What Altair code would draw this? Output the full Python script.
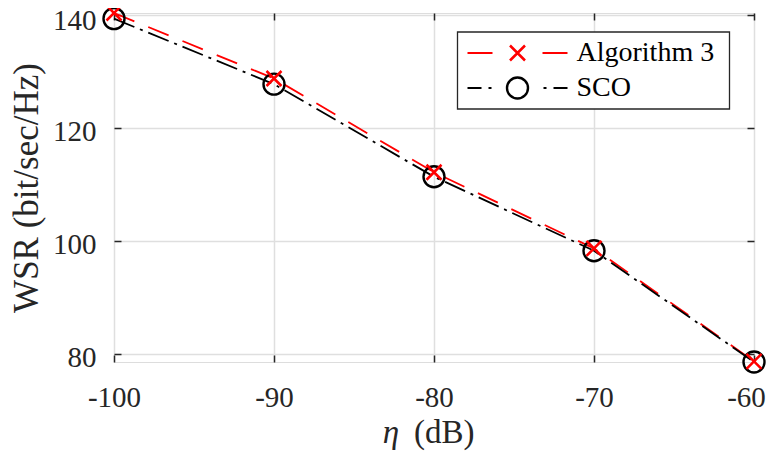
import altair as alt
import pandas as pd

# ---- data ----
eta_db = [-100, -90, -80, -70, -60]
wsr_alg3 = [140.3, 128.7, 112.1, 98.6, 78.6]
wsr_sco = [139.3, 127.7, 111.3, 98.2, 78.5]
series_names = ["Algorithm 3", "SCO"]
x_ticks = [-100, -90, -80, -70, -60]
y_ticks = [80, 100, 120, 140]
x_title_parts = ["η", "(dB)"]
y_title = "WSR (bit/sec/Hz)"

rows = []
for name, vals in zip(series_names, [wsr_alg3, wsr_sco]):
    for e, v in zip(eta_db, vals):
        rows.append({"eta": e, "wsr": v, "series": name})
df = pd.DataFrame(rows)

W, H = 640, 349
FONT = "Liberation Serif"
AX = "#262626"
RED = "#ff0000"
BLACK = "#000000"
XSHAPE = "M-1,-1L1,1M-1,1L1,-1"
LABEL_EXPR = "datum.value < 0 ? '-' + abs(datum.value) : '' + datum.value"

xscale = alt.Scale(domain=[-100, -60], nice=False, zero=False)
yscale = alt.Scale(domain=[78.5, 140.3], nice=False, zero=False)

main_x_axis = alt.Axis(orient="bottom", values=x_ticks, title=None, grid=True,
                       gridColor="#dfdfdf", gridWidth=1.5, ticks=False, domain=False,
                       labelFont=FONT, labelFontSize=29, labelColor=AX, labelPadding=21,
                       labelFlush=False, labelExpr=LABEL_EXPR, labelOverlap=False,
                       labelOffset={"condition": {"test": "datum.value == -60", "value": -8},
                                    "value": 0})
main_y_axis = alt.Axis(orient="left", values=y_ticks, title=y_title, grid=True,
                       gridColor="#dfdfdf", gridWidth=1.5, ticks=False, domain=False,
                       labelFont=FONT, labelFontSize=29, labelColor=AX, labelPadding=18,
                       labelFlush=False, labelExpr=LABEL_EXPR, labelOverlap=False,
                       labelOffset={"condition": {"test": "datum.value == 140", "value": 6},
                                    "value": 4},
                       titleFont=FONT, titleFontSize=35, titleFontWeight="normal",
                       titleColor=AX, titlePadding=8)


def tick_axis(orient, vals):
    return alt.Axis(orient=orient, values=vals, offset=-7, tickSize=7, tickWidth=1.5,
                    tickColor=AX, labels=False, grid=False, domain=False, title=None)


lines = alt.Chart(df).mark_line(strokeWidth=1.8).encode(
    x=alt.X("eta:Q", scale=xscale, axis=main_x_axis),
    y=alt.Y("wsr:Q", scale=yscale, axis=main_y_axis),
    color=alt.Color("series:N", scale=alt.Scale(domain=series_names, range=[RED, BLACK]), legend=None),
    strokeDash=alt.StrokeDash("series:N", scale=alt.Scale(domain=series_names,
                              range=[[22, 15], [22, 6, 3, 6]]), legend=None),
)

circles = alt.Chart(df).transform_filter(alt.datum.series == series_names[1]).mark_point(
    shape="circle", size=441, filled=False, strokeWidth=2.4, color=BLACK, opacity=1
).encode(
    x=alt.X("eta:Q", scale=xscale, axis=None),
    y=alt.Y("wsr:Q", scale=yscale, axis=None),
)

crosses = alt.Chart(df).transform_filter(alt.datum.series == series_names[0]).mark_point(
    shape=XSHAPE, size=225, filled=False, strokeWidth=2.5, color=RED, opacity=1
).encode(
    x=alt.X("eta:Q", scale=xscale, axis=None),
    y=alt.Y("wsr:Q", scale=yscale, axis=None),
)

ticks_bl = alt.Chart(df).mark_point(opacity=0).encode(
    x=alt.X("eta:Q", scale=xscale, axis=tick_axis("bottom", x_ticks)),
    y=alt.Y("wsr:Q", scale=yscale, axis=tick_axis("left", y_ticks)),
)
ticks_tr = alt.Chart(df).mark_point(opacity=0).encode(
    x=alt.X("eta:Q", scale=xscale, axis=tick_axis("top", x_ticks)),
    y=alt.Y("wsr:Q", scale=yscale, axis=tick_axis("right", y_ticks)),
)

# ---- legend (drawn manually) ----
leg_box = alt.Chart(pd.DataFrame({"k": [0]})).mark_rect(
    fill="white", stroke=AX, strokeWidth=1.3
).encode(x=alt.value(343.5), x2=alt.value(615.5), y=alt.value(19), y2=alt.value(96))

leg1 = pd.DataFrame({"label": [series_names[0]]})
leg2 = pd.DataFrame({"label": [series_names[1]]})

leg_line1 = alt.Chart(leg1).mark_rule(color=RED, strokeWidth=1.8, strokeDash=[25, 50, 25]).encode(
    x=alt.value(353.5), x2=alt.value(453.5), y=alt.value(40))
leg_mark1 = alt.Chart(leg1).mark_point(shape=XSHAPE, size=225, strokeWidth=2.5, color=RED,
                                       filled=False, opacity=1).encode(
    x=alt.value(403.5), y=alt.value(40))
leg_text1 = alt.Chart(leg1).mark_text(align="left", baseline="middle", font=FONT, fontSize=28,
                                      color=BLACK).encode(
    x=alt.value(462.5), y=alt.value(40), text="label:N")

leg_line2 = alt.Chart(leg2).mark_rule(color=BLACK, strokeWidth=1.8,
                                      strokeDash=[14, 7, 3, 52, 3, 7, 14]).encode(
    x=alt.value(353.5), x2=alt.value(453.5), y=alt.value(75))
leg_mark2 = alt.Chart(leg2).mark_point(shape="circle", size=441, strokeWidth=2.4, color=BLACK,
                                       filled=False, opacity=1).encode(
    x=alt.value(403.5), y=alt.value(75))
leg_text2 = alt.Chart(leg2).mark_text(align="left", baseline="middle", font=FONT, fontSize=28,
                                      color=BLACK).encode(
    x=alt.value(462.5), y=alt.value(75), text="label:N")

# ---- x-axis title (italic eta + upright unit) ----
xt_eta = alt.Chart(pd.DataFrame({"t": [x_title_parts[0]]})).mark_text(
    font=FONT, fontSize=33, fontStyle="italic", align="center", baseline="middle", color=AX
).encode(x=alt.value(277), y=alt.value(420), text="t:N")
xt_unit = alt.Chart(pd.DataFrame({"t": [x_title_parts[1]]})).mark_text(
    font=FONT, fontSize=33, align="left", baseline="middle", color=AX
).encode(x=alt.value(300), y=alt.value(420), text="t:N")

chart = alt.layer(
    lines, circles, crosses, ticks_bl, ticks_tr,
    leg_box, leg_line1, leg_mark1, leg_text1, leg_line2, leg_mark2, leg_text2,
    xt_eta, xt_unit,
).resolve_axis(x="independent", y="independent").properties(
    width=W, height=H, autosize="none",
    padding={"left": 106, "top": 5, "right": 13, "bottom": 90},
).configure_view(stroke=AX, strokeWidth=1.5).configure(background="white")

chart.save("out.html", embed_options={"renderer": "svg", "actions": False})
